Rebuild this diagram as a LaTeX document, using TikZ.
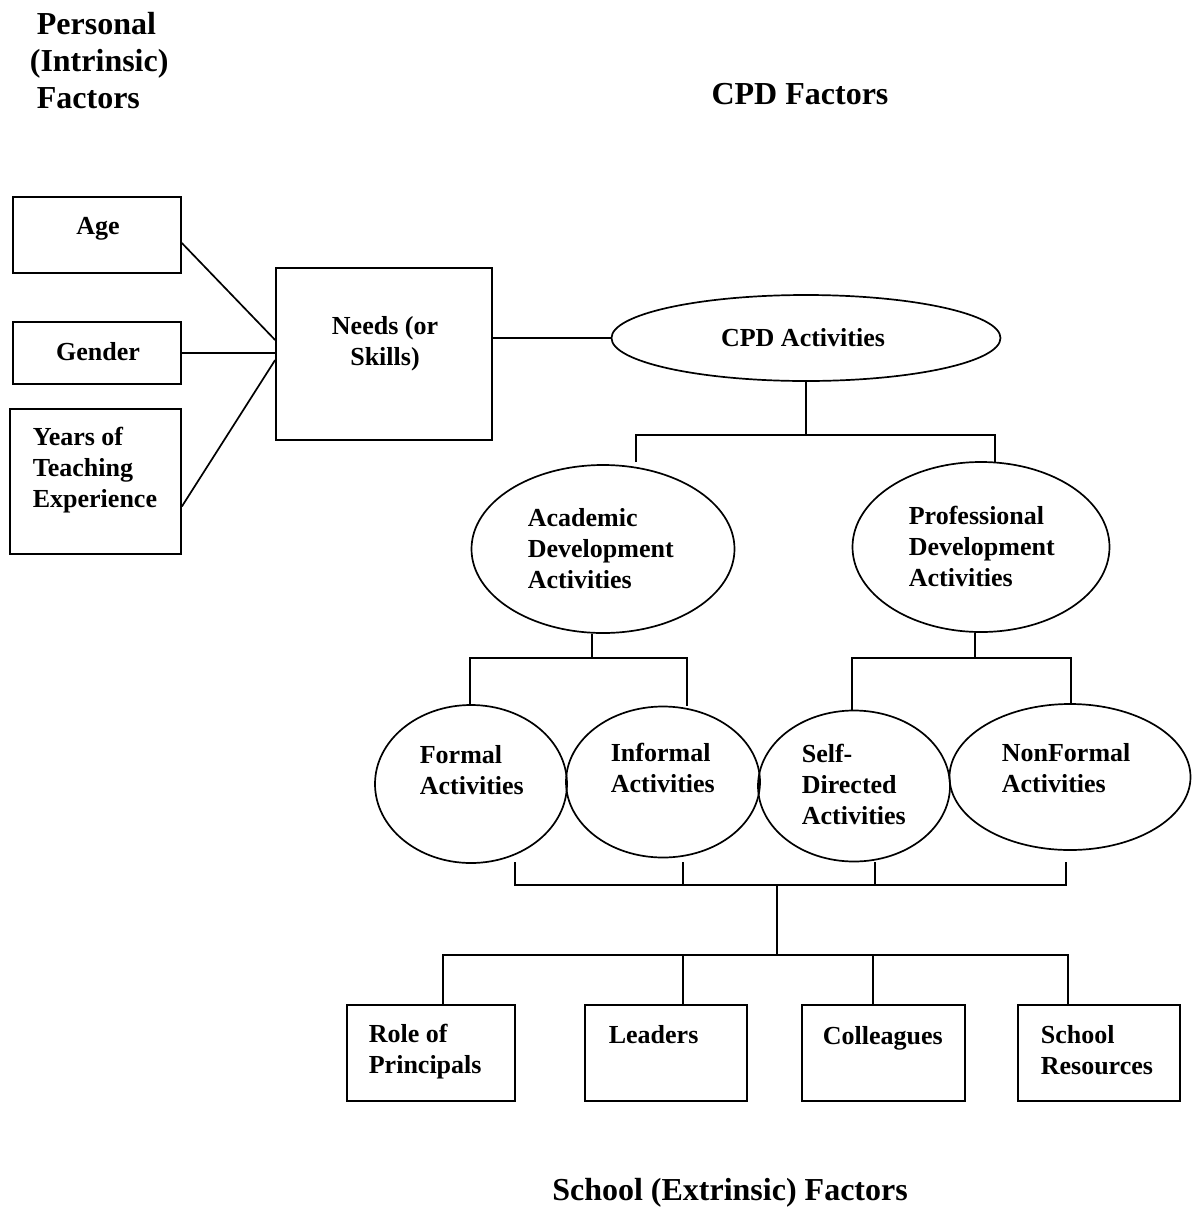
\documentclass[tikz,border=0pt]{standalone}
\usepackage{fontspec}
\setmainfont{Liberation Serif}
\usetikzlibrary{shapes.geometric}
\begin{document}
\begin{tikzpicture}[x=1pt,y=-1pt,line width=1.7pt,
  every node/.style={font=\fontsize{26}{31}\selectfont\bfseries},
  box/.style={draw,rectangle,inner sep=0pt},
  oval/.style={draw,ellipse,inner sep=0pt},
  lbl/.style={inner sep=0pt,align=left,anchor=west},
  heading/.style={inner sep=0pt,font=\fontsize{32}{37}\selectfont\bfseries}]
  \useasboundingbox (0,0) rectangle (1197,1216);
  % headings
  \node [heading,align=left,anchor=west] (ptitle) at (36,61) {Personal\\\hspace*{-7pt}(Intrinsic)\\Factors};
  \node [heading] (ctitle) at (800,94) {CPD Factors};
  \node [heading] (stitle) at (730,1193) {School (Extrinsic) Factors};
  % personal factors
  \node [box,minimum width=168pt,minimum height=76pt] (age) at (97,235) {};
  \node [box,minimum width=168pt,minimum height=62pt] (gender) at (97,353) {};
  \node [box,minimum width=171pt,minimum height=145pt] (years) at (95.5,481.5) {};
  \node [box,minimum width=216pt,minimum height=172pt] (needs) at (384,354) {};
  \node [inner sep=0pt] (agetxt) at (98,229) {Age};
  \node [inner sep=0pt] (gendertxt) at (98,352) {Gender};
  \node [lbl] (yearstxt) at (32,470) {Years of\\Teaching\\Experience};
  \node [inner sep=0pt,align=center] (needstxt) at (385,344) {Needs (or\\Skills)};
  \draw ([yshift=-8pt]age.east) -- ([yshift=14pt]needs.west);
  \draw (gender.east) -- (gender.east -| needs.west);
  \draw ([yshift=-25pt]years.east) -- ([yshift=-6pt]needs.west);
  % cpd activities
  \node [oval,minimum width=389pt,minimum height=86pt] (cpd) at (806,338) {};
  \node [inner sep=0pt] (cpdtxt) at (803,338) {CPD Activities};
  \draw (cpd.west -| needs.east) -- (cpd.west);
  \node [oval,minimum width=263pt,minimum height=168pt] (acad) at (603,549) {};
  \node [oval,minimum width=257pt,minimum height=170pt] (prof) at (981,547) {};
  \node [lbl] (acadtxt) at (527,549) {Academic\\Development\\Activities};
  \node [lbl] (proftxt) at (908,546) {Professional\\Development\\Activities};
  \coordinate (cpdJ) at (806,435);
  \coordinate (cpdL) at (636,462);
  \coordinate (cpdR) at (995,462);
  \draw (cpd) -- (cpdJ);
  \draw (cpdL) |- (cpdJ) -| (cpdR);
  % kinds of activities
  \node [oval,minimum width=192pt,minimum height=158pt] (formal) at (471,784) {};
  \node [oval,minimum width=194pt,minimum height=151pt] (informal) at (663,782) {};
  \node [oval,minimum width=192pt,minimum height=151pt] (selfdir) at (854,786) {};
  \node [oval,minimum width=241pt,minimum height=146pt] (nonformal) at (1070,777) {};
  \node [lbl] (formaltxt) at (419,770) {Formal\\Activities};
  \node [lbl] (informaltxt) at (610,768) {Informal\\Activities};
  \node [lbl] (selfdirtxt) at (801,784) {Self-\\Directed\\Activities};
  \node [lbl] (nonformaltxt) at (1001,768) {NonFormal\\Activities};
  \coordinate (acadJ) at (592,658);
  \coordinate (profJ) at (975,658);
  \draw (acad.south -| acadJ) -- (acadJ);
  \draw (formal.north -| 470,0) |- (acadJ) -| (informal.north -| 687,0);
  \draw (prof.south -| profJ) -- (profJ);
  \draw (selfdir.north -| 852,0) |- (profJ) -| (nonformal.north -| 1071,0);
  % school factors
  \coordinate (up1) at (515,862);
  \coordinate (up2) at (683,862);
  \coordinate (up3) at (875,862);
  \coordinate (up4) at (1066,862);
  \coordinate (midA) at (777,885);
  \coordinate (midB) at (777,955);
  \draw (up1) |- (midA) -| (up4);
  \draw (up2) -- (up2 |- midA);
  \draw (up3) -- (up3 |- midA);
  \draw (midA) -- (midB);
  \node [box,minimum width=168pt,minimum height=96pt] (role) at (431,1053) {};
  \node [box,minimum width=162pt,minimum height=96pt] (leaders) at (666,1053) {};
  \node [box,minimum width=163pt,minimum height=96pt] (colleagues) at (883.5,1053) {};
  \node [box,minimum width=162pt,minimum height=96pt] (school) at (1099,1053) {};
  \node [lbl] (roletxt) at (368,1051.5) {Role of\\Principals};
  \node [lbl] (leaderstxt) at (608,1035) {Leaders};
  \node [lbl] (colleaguestxt) at (822,1038) {Colleagues};
  \node [lbl] (schooltxt) at (1040,1050.5) {School\\Resources};
  \coordinate (dn1) at (443,955);
  \coordinate (dn2) at (683,955);
  \coordinate (dn3) at (873,955);
  \coordinate (dn4) at (1068,955);
  \draw (role.north -| dn1) |- (midB) -| (school.north -| dn4);
  \draw (leaders.north -| dn2) -- (dn2);
  \draw (colleagues.north -| dn3) -- (dn3);
\end{tikzpicture}
\end{document}
